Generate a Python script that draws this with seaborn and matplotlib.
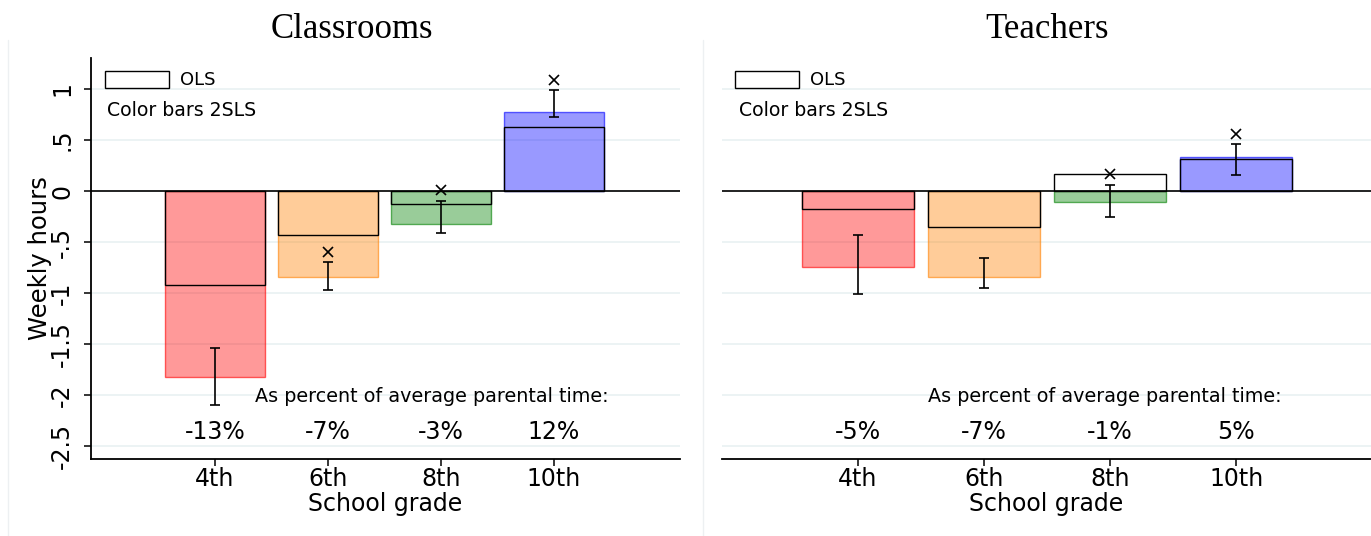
import numpy as np
import pandas as pd
import matplotlib
matplotlib.use("Agg")
import matplotlib.pyplot as plt
from matplotlib.lines import Line2D
from matplotlib.patches import Rectangle
from matplotlib.colors import to_rgb
import seaborn as sns

# ---- data -------------------------------------------------------------
grades = ["4th", "6th", "8th", "10th"]
bar_colors = ["#FF0000", "#FF8000", "#008000", "#0000FF"]

# Classrooms panel
class_2sls = [-1.824, -0.847, -0.319, 0.775]
class_ols = [-0.925, -0.436, -0.124, 0.632]
class_ci_lo = [-2.094, -0.967, -0.414, 0.726]
class_ci_hi = [-1.537, -0.694, -0.098, 0.990]
class_marks = [np.nan, -0.596, 0.007, 1.090]
class_pct = ["-13%", "-7%", "-3%", "12%"]

# Teachers panel
teach_2sls = [-0.749, -0.847, -0.111, 0.332]
teach_ols = [-0.176, -0.352, 0.166, 0.313]
teach_ci_lo = [-1.006, -0.954, -0.251, 0.160]
teach_ci_hi = [-0.430, -0.658, 0.062, 0.459]
teach_marks = [np.nan, np.nan, 0.163, 0.560]
teach_pct = ["-5%", "-7%", "-1%", "5%"]

ytick_vals = [1, 0.5, 0, -0.5, -1, -1.5, -2, -2.5]
ytick_labels = ["1", ".5", "0", "-.5", "-1", "-1.5", "-2", "-2.5"]
panel_titles = ["Classrooms", "Teachers"]

# ---- style ------------------------------------------------------------
sns.set_style("white")
plt.rcParams["font.family"] = ["DejaVu Sans"]
plt.rcParams.update({
    "text.color": "black",
    "axes.labelcolor": "black",
    "xtick.color": "black",
    "ytick.color": "black",
})
GRID = "#EAF2F3"
W, H = 1371, 536

fig = plt.figure(figsize=(W / 100, H / 100), dpi=100)
fig.patch.set_facecolor("white")


def px_axes(left, right, top, bottom):
    return fig.add_axes([left / W, 1 - bottom / H, (right - left) / W, (bottom - top) / H])


ax1 = px_axes(91, 680, 58, 459)
ax2 = px_axes(722, 1371, 58, 459)

panels = [
    (ax1, class_2sls, class_ols, class_ci_lo, class_ci_hi, class_marks, class_pct,
     (-1.097, 4.115), dict(rect_x=0.024, rect_w=0.109, ols_x=0.151, cb_x=0.027, pct_x=0.278)),
    (ax2, teach_2sls, teach_ols, teach_ci_lo, teach_ci_hi, teach_marks, teach_pct,
     (-1.079, 4.07), dict(rect_x=0.020, rect_w=0.099, ols_x=0.136, cb_x=0.026, pct_x=0.317)),
]

for i, (ax, tsls, ols, lo, hi, marks, pct, xlim, lay) in enumerate(panels):
    df = pd.DataFrame({"grade": grades, "tsls": tsls, "ols": ols})

    # 2SLS bars, translucent fills with coloured outlines
    n0 = len(ax.patches)
    sns.barplot(data=df, x="grade", y="tsls", hue="grade", order=grades,
                hue_order=grades, palette=bar_colors, width=0.89, saturation=1,
                errorbar=None, legend=False, ax=ax)
    tsls_patches = sorted(ax.patches[n0:], key=lambda p: p.get_x())
    for p, c in zip(tsls_patches, bar_colors):
        r, g, b = to_rgb(c)
        p.set_facecolor((r, g, b, 0.4))
        p.set_edgecolor((r, g, b, 0.6))
        p.set_linewidth(1.0)
        p.set_zorder(2)

    # OLS bars, outline only
    n1 = len(ax.patches)
    sns.barplot(data=df, x="grade", y="ols", order=grades, color="white",
                width=0.89, saturation=1, errorbar=None, ax=ax)
    for p in ax.patches[n1:]:
        p.set_facecolor("none")
        p.set_edgecolor("black")
        p.set_linewidth(1.0)
        p.set_zorder(2.5)

    pos = np.arange(len(grades))
    lo_a, hi_a = np.array(lo), np.array(hi)
    mid = (lo_a + hi_a) / 2
    ax.errorbar(pos, mid, yerr=[mid - lo_a, hi_a - mid], fmt="none",
                ecolor="black", elinewidth=1.2, capsize=3.6, capthick=1.2, zorder=4)
    ax.plot(pos, marks, linestyle="none", marker="x", color="black",
            markersize=6.5, markeredgewidth=1.2, zorder=4)

    ax.axhline(0, color="black", lw=1.2, zorder=3)

    ax.set_xlim(*xlim)
    ax.set_ylim(-2.627, 1.304)
    ax.set_yticks(ytick_vals)
    ax.yaxis.grid(True, color=GRID, lw=1.3, zorder=0)
    ax.set_axisbelow(True)

    ax.set_xticks(pos)
    ax.set_xticklabels(grades, fontsize=17)
    ax.tick_params(axis="x", direction="out", length=5, width=1.1, pad=0.5,
                   colors="black", bottom=True)
    ax.set_xlabel("School grade", fontsize=17)
    ax.xaxis.set_label_coords(0.5, -0.112)
    ax.xaxis.label.set_va("center")

    for s in ["top", "right"]:
        ax.spines[s].set_visible(False)
    ax.spines["bottom"].set_color("black")
    ax.spines["bottom"].set_linewidth(1.3)

    if i == 0:
        ax.set_yticklabels(ytick_labels, fontsize=17, rotation=90, va="center")
        ax.tick_params(axis="y", direction="out", length=5, width=1.1, pad=7,
                       colors="black", left=True)
        ax.spines["left"].set_color("black")
        ax.spines["left"].set_linewidth(1.3)
        ax.set_ylabel("Weekly hours", fontsize=17.5)
        ax.yaxis.set_label_coords(-0.066, 0.5)
    else:
        ax.set_yticklabels([])
        ax.tick_params(axis="y", left=False, length=0)
        ax.spines["left"].set_visible(False)
        ax.set_ylabel("")

    # key: outlined box for OLS, note for the coloured bars
    ax.add_patch(Rectangle((lay["rect_x"], 0.925), lay["rect_w"], 0.0424,
                           transform=ax.transAxes, facecolor="white",
                           edgecolor="black", lw=1.0, zorder=5, clip_on=False))
    ax.text(lay["ols_x"], 0.945, "OLS", transform=ax.transAxes, fontsize=13,
            va="center", ha="left")
    ax.text(lay["cb_x"], 0.868, "Color bars 2SLS", transform=ax.transAxes,
            fontsize=13.6, va="center", ha="left")

    ax.text(lay["pct_x"], 0.157, "As percent of average parental time:",
            transform=ax.transAxes, fontsize=13.8, va="center", ha="left")
    for x, t in zip(pos, pct):
        ax.text(x, -2.363, t, fontsize=17, ha="center", va="center")

# panel titles
fig.text(352 / W, 1 - 30 / H, panel_titles[0], fontsize=25, ha="center",
         va="center", family=["Liberation Serif", "DejaVu Serif"])
fig.text(1047 / W, 1 - 30 / H, panel_titles[1], fontsize=25, ha="center",
         va="center", family=["Liberation Serif", "DejaVu Serif"])

# faint panel frames
for xp in (8, 703):
    fig.add_artist(Line2D([xp / W, xp / W], [0, 1 - 40 / H], color="#EDF0F2",
                          lw=1.0, transform=fig.transFigure))

fig.savefig("out.png", dpi=100, facecolor="white")
